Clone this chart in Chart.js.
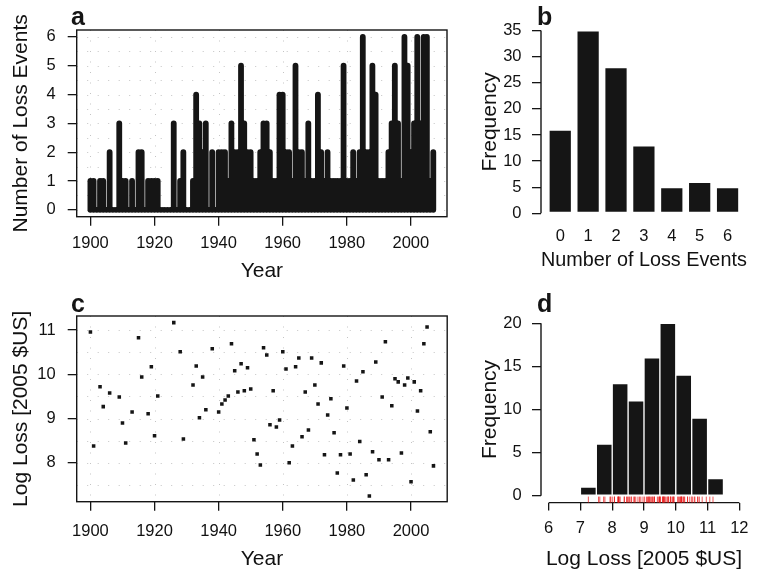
<!DOCTYPE html>
<html>
<head>
<meta charset="utf-8">
<script src="https://cdn.jsdelivr.net/npm/chart.js@4.4.1/dist/chart.umd.min.js"></script>
<style>
  body { margin: 0; background: #fff; }
  #wrap { position: relative; width: 763px; height: 573px; }
  canvas { position: absolute; }
</style>
</head>
<body>
<div id="wrap">
  <canvas id="chartA" width="460" height="290" style="left:0;top:0"></canvas>
  <canvas id="chartB" width="303" height="290" style="left:460px;top:0"></canvas>
  <canvas id="chartC" width="460" height="283" style="left:0;top:290px"></canvas>
  <canvas id="chartD" width="303" height="283" style="left:460px;top:290px"></canvas>
</div>
<script>
// ---- data ----
const years = [
  1900, 1901, 1902, 1903, 1904, 1905, 1906, 1907, 1908, 1909,
  1910, 1911, 1912, 1913, 1914, 1915, 1916, 1917, 1918, 1919,
  1920, 1921, 1922, 1923, 1924, 1925, 1926, 1927, 1928, 1929,
  1930, 1931, 1932, 1933, 1934, 1935, 1936, 1937, 1938, 1939,
  1940, 1941, 1942, 1943, 1944, 1945, 1946, 1947, 1948, 1949,
  1950, 1951, 1952, 1953, 1954, 1955, 1956, 1957, 1958, 1959,
  1960, 1961, 1962, 1963, 1964, 1965, 1966, 1967, 1968, 1969,
  1970, 1971, 1972, 1973, 1974, 1975, 1976, 1977, 1978, 1979,
  1980, 1981, 1982, 1983, 1984, 1985, 1986, 1987, 1988, 1989,
  1990, 1991, 1992, 1993, 1994, 1995, 1996, 1997, 1998, 1999,
  2000, 2001, 2002, 2003, 2004, 2005, 2006, 2007
];
// number of loss events per year (panel a)
const lossEvents = [
  1, 1, 0, 1, 1, 0, 2, 0, 0, 3,
  1, 1, 0, 1, 0, 2, 2, 0, 1, 1,
  1, 1, 0, 0, 0, 0, 3, 0, 1, 2,
  0, 0, 1, 4, 3, 2, 3, 0, 2, 0,
  2, 2, 2, 1, 3, 2, 2, 5, 3, 2,
  2, 1, 1, 2, 3, 3, 2, 1, 1, 4,
  4, 2, 2, 1, 5, 2, 2, 1, 3, 1,
  1, 4, 2, 1, 2, 1, 1, 1, 1, 5,
  1, 1, 2, 1, 2, 6, 2, 2, 5, 4,
  1, 1, 1, 2, 3, 5, 3, 1, 6, 5,
  2, 3, 6, 3, 6, 6, 1, 2
];

// panel b: frequency of each count
const eventCounts = [0, 1, 2, 3, 4, 5, 6];
const countFreq = [16, 35, 28, 13, 5, 6, 5];

// panel c: log loss for the years with losses
const lossYears = [
  1900, 1901, 1903, 1904, 1906, 1909, 1910, 1911, 1913, 1915,
  1916, 1918, 1919, 1920, 1921, 1926, 1928, 1929, 1932, 1933,
  1934, 1935, 1936, 1938, 1940, 1941, 1942, 1943, 1944, 1945,
  1946, 1947, 1948, 1949, 1950, 1951, 1952, 1953, 1954, 1955,
  1956, 1957, 1958, 1959, 1960, 1961, 1962, 1963, 1964, 1965,
  1966, 1967, 1968, 1969, 1970, 1971, 1972, 1973, 1974, 1975,
  1976, 1977, 1978, 1979, 1980, 1981, 1982, 1983, 1984, 1985,
  1986, 1987, 1988, 1989, 1990, 1991, 1992, 1993, 1994, 1995,
  1996, 1997, 1998, 1999, 2000, 2001, 2002, 2003, 2004, 2005,
  2006, 2007
];
const logLoss = [
  10.96, 8.38, 9.72, 9.27, 9.58, 9.49, 8.90, 8.45, 9.15, 10.83,
  9.94, 9.11, 10.17, 8.61, 9.51, 11.17, 10.51, 8.54, 9.76, 10.19,
  9.02, 9.94, 9.20, 10.58, 9.15, 9.33, 9.42, 9.51, 10.69, 10.08,
  9.60, 10.24, 9.63, 10.15, 9.67, 8.52, 8.20, 7.95, 10.60, 10.44,
  8.86, 9.63, 8.81, 8.97, 10.51, 10.12, 8.00, 8.38, 10.17, 10.37,
  8.59, 9.60, 8.74, 10.37, 9.76, 9.33, 10.26, 8.18, 9.08, 9.45,
  8.68, 7.77, 8.18, 10.19, 9.24, 8.20, 7.61, 9.85, 8.48, 10.06,
  7.73, 7.25, 8.25, 10.28, 8.07, 9.49, 10.74, 8.07, 9.29, 9.90,
  9.83, 8.22, 9.76, 9.92, 7.57, 9.83, 9.17, 9.63, 10.69, 11.07,
  8.70, 7.93
];

// panel d: histogram of log loss
const binEdges = [7, 7.5, 8, 8.5, 9, 9.5, 10, 10.5, 11, 11.5];
const binFreq = [1, 6, 13, 11, 16, 20, 14, 9, 2];

// tick labels
const yearTicks = [1900, 1920, 1940, 1960, 1980, 2000];
const eventTicks = [0, 1, 2, 3, 4, 5, 6];
const freqTicksB = [0, 5, 10, 15, 20, 25, 30, 35];
const lossTicks = [8, 9, 10, 11];
const lossAxisTicks = [6, 7, 8, 9, 10, 11, 12];
const freqTicksD = [0, 5, 10, 15, 20];
// dotted grid rows
const gridRowsA = [0, 0.5, 1, 1.5, 2, 2.5, 3, 3.5, 4, 4.5, 5, 5.5, 6];
const gridRowsC = [7.5, 8, 8.5, 9, 9.5, 10, 10.5, 11];

// ---- common look ----
Chart.defaults.font.family = '"Liberation Sans", Arial, Helvetica, sans-serif';
Chart.defaults.color = '#111';
const INK = '#151515';

const setTicks = vals => axis => { axis.ticks = vals.map(v => ({ value: v })); };
const fitW = w => axis => { axis.width = w; };
const fitH = h => axis => { axis.height = h; };
const tickFont = { size: 16.5 };
const titleFont = { size: 21, lineHeight: 1 };

// R-like decorations: dotted grid, box, short axis lines, rug, panel letter
const rStyle = {
  id: 'rStyle',
  beforeDatasetsDraw(chart, args, o) {
    if (!o.grid) return;
    const { ctx, chartArea: ca, scales } = chart;
    ctx.save();
    ctx.strokeStyle = '#c4c4c4';
    ctx.lineWidth = 1;
    ctx.setLineDash([1, 9.5]);
    ctx.beginPath();
    o.grid.x.forEach(v => {
      const px = Math.round(scales.x.getPixelForValue(v)) + 0.5;
      ctx.moveTo(px, ca.top); ctx.lineTo(px, ca.bottom);
    });
    o.grid.y.forEach(v => {
      const py = Math.round(scales.y.getPixelForValue(v)) + 0.5;
      ctx.moveTo(ca.left, py); ctx.lineTo(ca.right, py);
    });
    ctx.stroke();
    ctx.restore();
  },
  afterDraw(chart, args, o) {
    const { ctx, chartArea: ca, scales } = chart;
    ctx.save();
    ctx.strokeStyle = INK;
    ctx.lineWidth = 1.4;
    if (o.box) ctx.strokeRect(ca.left, ca.top, ca.right - ca.left, ca.bottom - ca.top);
    (o.axisLines || []).forEach(id => {
      const s = chart.scales[id];
      const a = s.getPixelForValue(s.ticks[0].value);
      const b = s.getPixelForValue(s.ticks[s.ticks.length - 1].value);
      ctx.beginPath();
      if (s.isHorizontal()) { ctx.moveTo(a, ca.bottom); ctx.lineTo(b, ca.bottom); }
      else { ctx.moveTo(ca.left, a); ctx.lineTo(ca.left, b); }
      ctx.stroke();
    });
    if (o.rug) {
      ctx.strokeStyle = 'rgba(232, 20, 20, 0.9)';
      ctx.lineWidth = 0.8;
      ctx.beginPath();
      o.rug.forEach(v => {
        const px = scales.x.getPixelForValue(v);
        ctx.moveTo(px, ca.bottom - 6); ctx.lineTo(px, ca.bottom);
      });
      ctx.stroke();
    }
    if (o.letter) {
      ctx.fillStyle = INK;
      ctx.font = 'bold 25px "Liberation Sans", Arial, sans-serif';
      ctx.textBaseline = 'alphabetic';
      ctx.fillText(o.letter.text, o.letter.x, o.letter.y);
    }
    ctx.restore();
  }
};

const baseOpts = {
  responsive: false,
  animation: false,
  events: [],
  devicePixelRatio: 1,
};
function yAxis(min, max, ticks, title, width, pad, titlePad, tl) {
  return {
    type: 'linear', min: min, max: max,
    afterBuildTicks: setTicks(ticks), afterFit: fitW(width),
    ticks: { font: tickFont, padding: pad, callback: v => String(v) },
    grid: { drawOnChartArea: false, tickLength: tl, color: INK, lineWidth: 1.3 },
    border: { display: false },
    title: { display: true, text: title, font: titleFont, padding: { top: titlePad, bottom: 0 } }
  };
}
function xAxis(min, max, ticks, title, height, pad, titlePad, tl, showTicks) {
  return {
    type: 'linear', min: min, max: max, offset: false,
    afterBuildTicks: setTicks(ticks), afterFit: fitH(height),
    ticks: { font: tickFont, padding: pad, maxRotation: 0, autoSkip: false, callback: v => String(v) },
    grid: showTicks
      ? { offset: false, drawOnChartArea: false, tickLength: tl, color: INK, lineWidth: 1.3 }
      : { offset: false, display: false, drawTicks: false },
    border: { display: false },
    title: { display: true, text: title, font: titleFont, padding: { top: 0, bottom: titlePad } }
  };
}

// ---- panel a: events per year as thick vertical lines ----
const eventSegments = [];
years.forEach((yr, i) => {
  eventSegments.push({ x: yr, y: 0 }, { x: yr, y: lossEvents[i] }, { x: yr, y: null });
});
new Chart(document.getElementById('chartA'), {
  type: 'scatter',
  data: { datasets: [{
    data: eventSegments, showLine: true, spanGaps: false,
    borderColor: INK, borderWidth: 5.8, borderCapStyle: 'round', borderJoinStyle: 'round',
    pointRadius: 0, pointHoverRadius: 0
  }] },
  options: Object.assign({}, baseOpts, {
    layout: { padding: { top: 30, right: 13, left: 0, bottom: 0 } },
    scales: {
      x: xAxis(1895.72, 2011.28, yearTicks, 'Year', 73.3, 7.5, 8.75, 9, true),
      y: yAxis(-0.24, 6.24, eventTicks, 'Number of Loss Events', 76.7, 12, 11, 9)
    },
    plugins: {
      legend: { display: false }, tooltip: { enabled: false },
      rStyle: { box: true, grid: { x: yearTicks, y: gridRowsA }, letter: { text: 'a', x: 71, y: 25 } }
    }
  }),
  plugins: [rStyle]
});

// ---- panel b: bar plot of counts ----
new Chart(document.getElementById('chartB'), {
  type: 'bar',
  data: { datasets: [{
    data: eventCounts.map((c, i) => ({ x: c, y: countFreq[i] })),
    backgroundColor: INK, borderColor: '#ffffff', borderWidth: 1, borderSkipped: false,
    barPercentage: 1 / 1.2, categoryPercentage: 1
  }] },
  options: Object.assign({}, baseOpts, {
    layout: { padding: { top: 23.3, right: 16.2, left: 0, bottom: 0 } },
    scales: {
      x: xAxis(-0.69, 6.69, eventCounts, 'Number of Loss Events', 69.4, 6, 19.75, 0, false),
      y: yAxis(-1.4, 36.4, freqTicksB, 'Frequency', 81, 10.5, 19.75, 9)
    },
    plugins: {
      legend: { display: false }, tooltip: { enabled: false },
      rStyle: { axisLines: ['y'], letter: { text: 'b', x: 77, y: 25 } }
    }
  }),
  plugins: [rStyle]
});

// ---- panel c: log loss by year ----
new Chart(document.getElementById('chartC'), {
  type: 'scatter',
  data: { datasets: [{
    data: lossYears.map((yr, i) => ({ x: yr, y: logLoss[i] })),
    pointStyle: 'rect', pointRadius: 2.5, pointHoverRadius: 2.5,
    backgroundColor: INK, borderWidth: 0
  }] },
  options: Object.assign({}, baseOpts, {
    layout: { padding: { top: 26, right: 12.8, left: 0, bottom: 0 } },
    scales: {
      x: xAxis(1895.72, 2011.28, yearTicks, 'Year', 71.3, 10.9, 3.75, 9, true),
      y: yAxis(7.12, 11.32, lossTicks, 'Log Loss [2005 $US]', 76.7, 12, 11, 9)
    },
    plugins: {
      legend: { display: false }, tooltip: { enabled: false },
      rStyle: { box: true, grid: { x: yearTicks, y: gridRowsC }, letter: { text: 'c', x: 71, y: 22 } }
    }
  }),
  plugins: [rStyle]
});

// ---- panel d: histogram of log loss with rug ----
const binCenters = binFreq.map((f, i) => (binEdges[i] + binEdges[i + 1]) / 2);
new Chart(document.getElementById('chartD'), {
  type: 'bar',
  data: { datasets: [{
    data: binCenters.map((c, i) => ({ x: c, y: binFreq[i] })),
    backgroundColor: INK, borderColor: '#ffffff', borderWidth: 1, borderSkipped: false,
    barPercentage: 1, categoryPercentage: 1
  }] },
  options: Object.assign({}, baseOpts, {
    layout: { padding: { top: 26.4, right: 16, left: 0, bottom: 0 } },
    scales: {
      x: xAxis(5.76, 12.24, lossAxisTicks, 'Log Loss [2005 $US]', 70.4, 7.6, 3.75, 8, true),
      y: yAxis(-0.8, 20.8, freqTicksD, 'Frequency', 81, 10.3, 19.75, 9)
    },
    plugins: {
      legend: { display: false }, tooltip: { enabled: false },
      rStyle: { axisLines: ['x', 'y'], rug: logLoss, letter: { text: 'd', x: 77, y: 21.7 } }
    }
  }),
  plugins: [rStyle]
});
</script>
</body>
</html>
